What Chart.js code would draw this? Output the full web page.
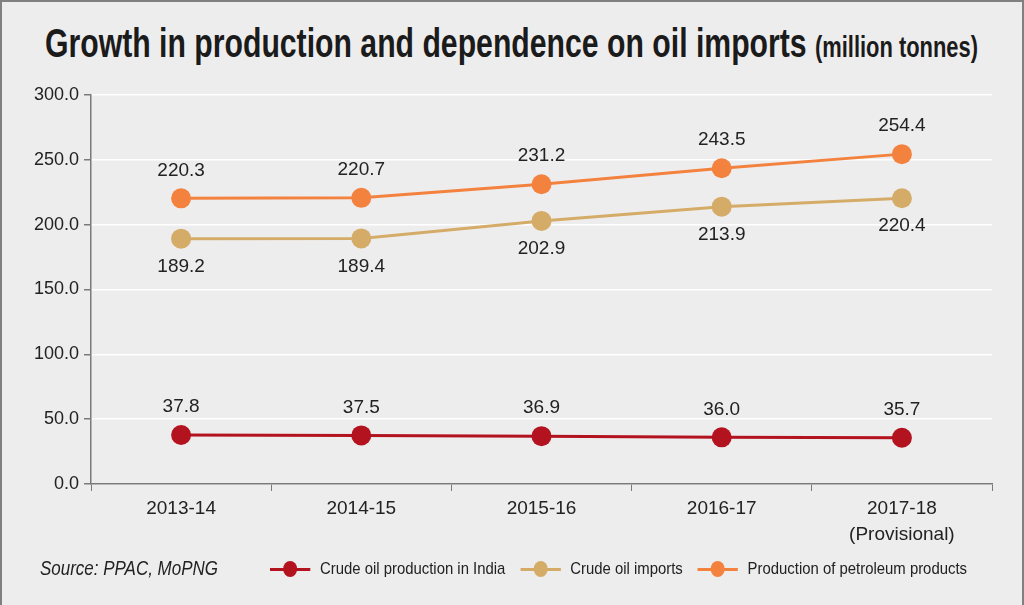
<!DOCTYPE html>
<html>
<head>
<meta charset="utf-8">
<script src="https://cdn.jsdelivr.net/npm/chart.js@4.4.1/dist/chart.umd.min.js"></script>
<style>
  html, body { margin: 0; padding: 0; }
  body {
    width: 1024px; height: 605px; overflow: hidden;
    background: #eeedee;
    font-family: "Liberation Sans", Arial, sans-serif;
    position: relative;
  }
  #frame {
    position: absolute; left: 0; top: 0; width: 1020px; height: 620px;
    border: 2px solid #808080; box-sizing: content-box;
  }
  #title {
    position: absolute; left: 45px; top: 20px; white-space: nowrap;
    font-weight: bold; color: #1b1b1b; transform-origin: 0 0;
    font-size: 40px; line-height: 46px;
  }
  #title small { font-size: 29px; }
  #chartBox { position: absolute; left: 0; top: 0; width: 1024px; height: 560px; }
  #source {
    position: absolute; left: 40px; top: 557px; font-style: italic;
    font-size: 20px; color: #222; white-space: nowrap; transform-origin: 0 0;
  }
  #legend {
    position: absolute; left: 270px; top: 559px; display: flex; gap: 17px;
    font-size: 17px; color: #222; white-space: nowrap; transform-origin: 0 0;
  }
  .item { display: flex; align-items: center; }
  .mark { position: relative; width: 46px; height: 20px; margin-right: 11px; }
  .mark .ln { position: absolute; left: 0; right: 0; top: 8.5px; height: 3px; }
  .mark .dt { position: absolute; left: 15px; top: 2px; width: 16px; height: 16px; border-radius: 50%; }
</style>
</head>
<body>
<div id="frame"></div>
<div id="title">Growth in production and dependence on oil imports <small>(million tonnes)</small></div>
<div id="chartBox"><canvas id="oilChart"></canvas></div>
<div id="source">Source: PPAC, MoPNG</div>
<div id="legend"></div>
<script>
// Dados do gráfico
const years = ["2013-14", "2014-15", "2015-16", "2016-17", ["2017-18", "(Provisional)"]];
const crudeProduction = [37.8, 37.5, 36.9, 36.0, 35.7];
const crudeImports = [189.2, 189.4, 202.9, 213.9, 220.4];
const petroleumProducts = [220.3, 220.7, 231.2, 243.5, 254.4];
const yTicks = [0, 50, 100, 150, 200, 250, 300];

const seriesNames = ["Crude oil production in India", "Crude oil imports", "Production of petroleum products"];
const seriesColors = ["#b3121f", "#d4ac68", "#f4823f"];
const labelSide = ["above", "below", "above"]; // posição dos rótulos

const FONT = "'Liberation Sans', Arial, sans-serif";

// encolher um elemento na horizontal até uma largura alvo
function fitWidth(el, target) {
    const w = el.getBoundingClientRect().width;
    el.style.transform = 'scaleX(' + (target / w) + ')';
}
fitWidth(document.getElementById('title'), 933);
fitWidth(document.getElementById('source'), 178);

// Plugin simples para os rótulos de valores
const valueLabels = {
    id: 'valueLabels',
    afterDatasetsDraw(chart) {
        const ctx = chart.ctx;
        ctx.save();
        ctx.font = "19px " + FONT;
        ctx.fillStyle = "#222";
        ctx.textAlign = "center";
        ctx.textBaseline = "middle";
        chart.data.datasets.forEach((ds, i) => {
            const meta = chart.getDatasetMeta(i);
            meta.data.forEach((pt, j) => {
                const dy = labelSide[i] === 'above' ? -28 : 28;
                ctx.fillText(ds.data[j].toFixed(1), pt.x, pt.y + dy);
            });
        });
        ctx.restore();
    }
};

const datasets = [crudeProduction, crudeImports, petroleumProducts].map((d, i) => ({
    label: seriesNames[i],
    data: d,
    borderColor: seriesColors[i],
    backgroundColor: seriesColors[i],
    pointBackgroundColor: seriesColors[i],
    pointBorderWidth: 0,
    pointRadius: 10,
    borderWidth: 3,
    tension: 0,
    fill: false
}));

const ctx = document.getElementById('oilChart').getContext('2d');
const chart = new Chart(ctx, {
    type: 'line',
    data: { labels: years, datasets: datasets },
    options: {
        responsive: true,
        maintainAspectRatio: false,
        animation: false,
        layout: { padding: { top: 95, right: 32, left: 0, bottom: 0 } },
        plugins: {
            legend: { display: false },
            tooltip: { enabled: false }
        },
        scales: {
            x: {
                offset: true,
                grid: { drawOnChartArea: false, drawTicks: true, tickLength: 7, color: '#7a7a7a', offset: true },
                border: { display: true, color: '#7a7a7a', width: 1.5 },
                ticks: { color: '#222', font: { family: FONT, size: 19, lineHeight: 1.35 }, padding: 5, maxRotation: 0 },
                afterFit(scale) { scale.height = 76; }
            },
            y: {
                min: 0,
                max: 300,
                afterBuildTicks(scale) { scale.ticks = yTicks.map(v => ({ value: v })); },
                grid: { color: '#ffffff', lineWidth: 1.5, tickColor: '#7a7a7a', tickLength: 7 },
                border: { display: true, color: '#7a7a7a', width: 1.5 },
                ticks: {
                    color: '#222', font: { family: FONT, size: 18 }, padding: 5,
                    callback: v => v.toFixed(1)
                },
                afterFit(scale) { scale.width = 91; }
            }
        }
    },
    plugins: [valueLabels]
});

// Legenda em HTML
const legendEl = document.getElementById('legend');
chart.data.datasets.forEach(ds => {
    const item = document.createElement('div');
    item.className = 'item';
    item.innerHTML = `<span class="mark"><span class="ln" style="background:${ds.borderColor}"></span>` +
                     `<span class="dt" style="background:${ds.borderColor}"></span></span>${ds.label}`;
    legendEl.appendChild(item);
});
fitWidth(legendEl, 697);
</script>
</body>
</html>
